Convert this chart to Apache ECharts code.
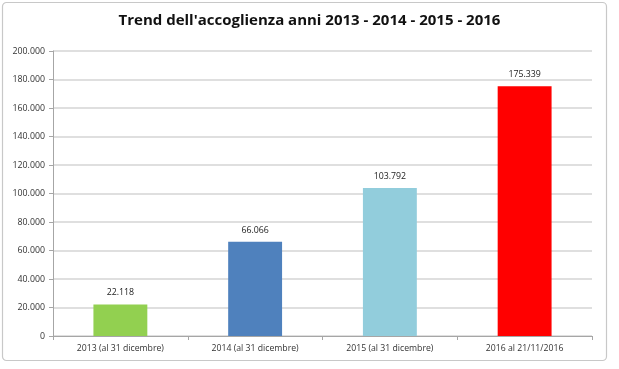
<!DOCTYPE html>
<html><head><meta charset="utf-8">
<script src="https://cdn.jsdelivr.net/npm/echarts@6/dist/echarts.min.js"></script>
<style>html,body{margin:0;padding:0;background:#fff}#c{width:619px;height:369px}</style>
</head><body><div id="c"></div>
<script>
const categories = ['2013 (al 31 dicembre)', '2014 (al 31 dicembre)', '2015 (al 31 dicembre)', '2016 al 21/11/2016'];
const values = [22118, 66066, 103792, 175339];
const barColors = ['#92d050', '#4f81bd', '#92cddc', '#ff0000'];
const titleText = "Trend dell'accoglienza anni 2013 - 2014 - 2015 - 2016";
const fmt = v => v === 0 ? '0' : String(v).replace(/\B(?=(\d{3})+(?!\d))/g, '.');
const chart = echarts.init(document.getElementById('c'), null, {renderer: 'canvas'});
chart.setOption({
  animation: false,
  backgroundColor: '#fff',
  textStyle: {fontFamily: 'Open Sans'},
  graphic: [{type: 'rect', shape: {x: 2.5, y: 2.5, width: 604, height: 358, r: 4}, style: {fill: 'none', stroke: '#c8c8c8', lineWidth: 1.2}, z: -1}],
  title: {text: titleText, left: 'center', top: 8, textStyle: {fontFamily: 'Open Sans', fontSize: 15, fontWeight: 'bold', color: '#111'}},
  grid: {left: 53, right: 27, top: 51, bottom: 33, containLabel: false},
  xAxis: {type: 'category', data: categories,
    axisLine: {lineStyle: {color: '#a6a6a6', width: 1}},
    axisTick: {show: true, length: 4, lineStyle: {color: '#a6a6a6'}},
    axisLabel: {color: '#333', fontSize: 8.7, margin: 8, fontFamily: 'Open Sans'}},
  yAxis: {type: 'value', min: 0, max: 200000, interval: 20000,
    axisLine: {show: true, lineStyle: {color: '#a6a6a6', width: 1}},
    axisTick: {show: true, length: 4, lineStyle: {color: '#a6a6a6'}},
    splitLine: {lineStyle: {color: '#d4d4d4', width: 1.5}},
    axisLabel: {color: '#333', fontSize: 8.8, margin: 8, formatter: fmt, fontFamily: 'Open Sans'}},
  series: [{type: 'bar', barWidth: '40%',
    data: values.map((v, i) => ({value: v, itemStyle: {color: barColors[i]}})),
    label: {show: true, position: 'top', distance: 7, color: '#222', fontSize: 8.8, fontFamily: 'Open Sans', formatter: p => fmt(p.value)}}]
});
</script></body></html>
